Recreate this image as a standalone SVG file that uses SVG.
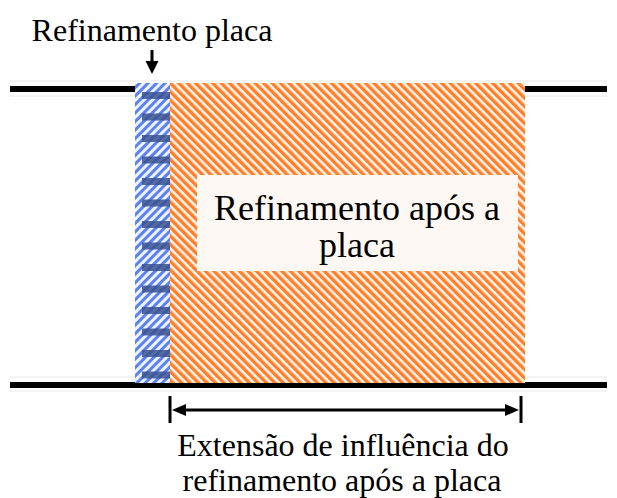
<svg xmlns="http://www.w3.org/2000/svg" width="617" height="498" viewBox="0 0 617 498">
<style>
.t{font-family:"Liberation Serif","Times New Roman",serif;font-size:32px;fill:#000;text-anchor:middle}
.big{font-size:36px}
.wall{fill:#000}
.dim{stroke:#000;stroke-width:3;fill:none}
</style>
<defs>
<pattern id="orange" width="6" height="6" patternUnits="userSpaceOnUse" patternTransform="rotate(-45)">
<rect width="6" height="6" fill="#fff4ec"/>
<rect width="3.4" height="6" fill="#ff7f2a"/>
</pattern>
<pattern id="blue" width="6" height="6" patternUnits="userSpaceOnUse" patternTransform="rotate(45)">
<rect width="6" height="6" fill="#eef2ff"/>
<rect width="3" height="6" fill="#5b82f0"/>
</pattern>
</defs>
<rect width="617" height="498" fill="#fff"/>
<g id="walls">
<rect x="10" y="80" width="597" height="2" fill="#f4f4f4"/>
<rect x="10" y="95" width="597" height="2" fill="#f4f4f4"/>
<rect x="10" y="376" width="597" height="2" fill="#f4f4f4"/>
<rect x="10" y="390" width="597" height="2" fill="#f4f4f4"/>
<rect class="wall" x="10" y="86" width="597" height="6"/>
<rect class="wall" x="10" y="382" width="597" height="6"/>
</g>
<g id="refinamento-apos">
<rect x="170" y="83" width="355" height="300" fill="url(#orange)"/>
<rect x="197" y="175" width="321" height="96" fill="#fdf8f4"/>
<text class="t big" x="357" y="220">Refinamento após a</text>
<text class="t big" x="357" y="257">placa</text>
</g>
<g id="refinamento-placa">
<rect x="135" y="83" width="35" height="300" fill="url(#blue)"/>
<g fill="#3a5290" fill-opacity="0.85">
<rect x="142" y="92" width="28" height="7"/>
<rect x="142" y="113.5" width="28" height="7"/>
<rect x="142" y="135" width="28" height="7"/>
<rect x="142" y="156.5" width="28" height="7"/>
<rect x="142" y="178" width="28" height="7"/>
<rect x="142" y="199.5" width="28" height="7"/>
<rect x="142" y="221" width="28" height="7"/>
<rect x="142" y="242.5" width="28" height="7"/>
<rect x="142" y="264" width="28" height="7"/>
<rect x="142" y="285.5" width="28" height="7"/>
<rect x="142" y="307" width="28" height="7"/>
<rect x="142" y="328.5" width="28" height="7"/>
<rect x="142" y="350" width="28" height="7"/>
<rect x="142" y="371.5" width="28" height="7"/>
</g>
</g>
<g id="label-placa">
<text class="t" x="152" y="41">Refinamento placa</text>
</g>
<g id="connectors">
<line class="dim" x1="152" y1="50" x2="152" y2="63"/>
<polygon points="145.5,61 158.5,61 152,74" fill="#000"/>
<line class="dim" x1="170" y1="396" x2="170" y2="423"/>
<line class="dim" x1="521" y1="396" x2="521" y2="423"/>
<line class="dim" x1="182" y1="410" x2="509" y2="410"/>
<polygon points="172,410 186,404 186,416" fill="#000"/>
<polygon points="519,410 505,404 505,416" fill="#000"/>
</g>
<g id="label-extensao">
<text class="t" x="343" y="456">Extensão de influência do</text>
<text class="t" x="342" y="491">refinamento após a placa</text>
</g>
</svg>
